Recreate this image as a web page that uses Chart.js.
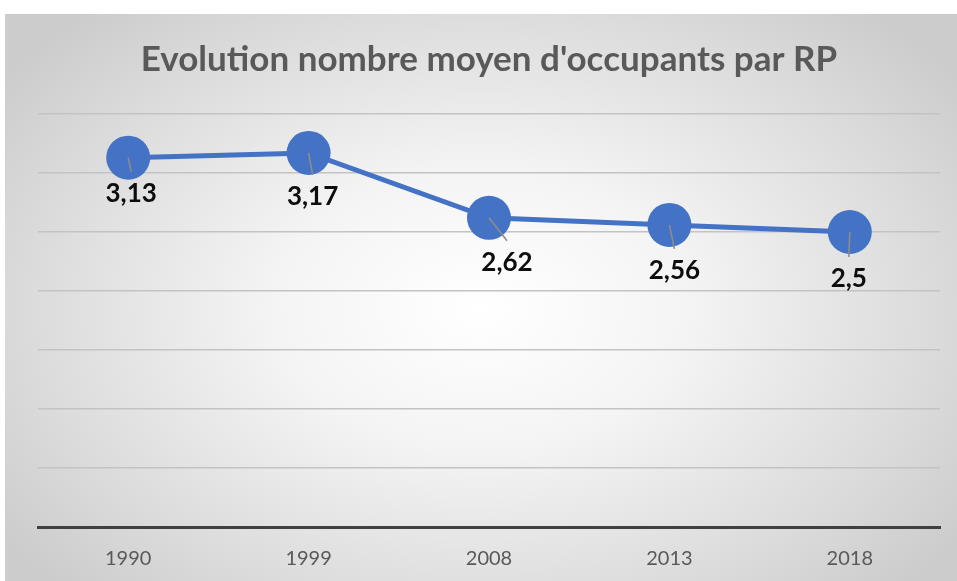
<!DOCTYPE html>
<html>
<head>
<meta charset="utf-8">
<script src="https://cdn.jsdelivr.net/npm/chart.js@4/dist/chart.umd.min.js"></script>
<style>
  html, body { margin: 0; padding: 0; background: #ffffff; width: 957px; height: 581px; overflow: hidden; }
  #wrap {
    position: absolute; left: 5px; top: 14px; width: 952px; height: 567px;
    background: radial-gradient(ellipse 62% 70% at 50% 52%, #ffffff 0%, #f4f4f4 35%, #dcdcdc 75%, #cccccc 100%);
  }
  canvas { display: block; }
</style>
</head>
<body>
<div id="wrap"><canvas id="c" width="952" height="567"></canvas></div>
<script>
const titleText = "Evolution nombre moyen d'occupants par RP";
const years = ["1990", "1999", "2008", "2013", "2018"];
const occupants = [3.13, 3.17, 2.62, 2.56, 2.5];
const yMin = 0;
const yMax = 3.5;
const yStep = 0.5;

const fmt = v => String(v).replace('.', ',');

const labelPlugin = {
  id: 'pointLabels',
  afterDatasetsDraw(chart, args, opts) {
    const ctx = chart.ctx;
    const meta = chart.getDatasetMeta(0);
    ctx.save();
    meta.data.forEach((pt, i) => {
      const off = opts.offsets[i] || [0, 40];
      const lx = pt.x + off[0];
      const ly = pt.y + off[1];
      ctx.strokeStyle = '#8c8c8c';
      ctx.lineWidth = 1.6;
      ctx.beginPath();
      ctx.moveTo(pt.x, pt.y);
      ctx.lineTo(lx, ly - 22);
      ctx.stroke();
      ctx.fillStyle = '#0d0d0d';
      ctx.font = 'bold 26px Lato, "Open Sans", sans-serif';
      ctx.textAlign = 'center';
      ctx.textBaseline = 'middle';
      ctx.fillText(fmt(chart.data.datasets[0].data[i]), lx, ly);
    });
    ctx.restore();
  }
};

new Chart(document.getElementById('c'), {
  type: 'line',
  data: {
    labels: years,
    datasets: [{
      data: occupants,
      borderColor: '#4472C4',
      backgroundColor: '#4472C4',
      borderWidth: 5,
      pointRadius: 22,
      pointHoverRadius: 22,
      pointBackgroundColor: '#4472C4',
      pointBorderWidth: 0,
      tension: 0,
      clip: false
    }]
  },
  options: {
    responsive: false,
    animation: false,
    events: [],
    layout: { autoPadding: false, padding: { left: 33, right: 17, top: 0, bottom: 0 } },
    plugins: {
      legend: { display: false },
      tooltip: { enabled: false },
      title: {
        display: true,
        text: titleText,
        color: '#595959',
        font: { family: 'Lato, "Open Sans", sans-serif', size: 35, weight: 'bold' },
        padding: { top: 25, bottom: 33 }
      },
      pointLabels: { offsets: [[3, 36], [4, 44], [18, 45], [5, 46], [-1, 47]] }
    },
    scales: {
      x: {
        offset: true,
        grid: { display: false, drawTicks: false },
        border: { display: true, color: '#404040', width: 3 },
        ticks: { color: '#595959', font: { family: 'Lato, "Open Sans", sans-serif', size: 20 }, padding: 20 },
        afterFit(scale) { scale.height = 54; }
      },
      y: {
        min: yMin, max: yMax,
        ticks: { display: false, stepSize: yStep },
        grid: { color: '#c3c3c3', lineWidth: 1.5, drawTicks: false },
        border: { display: false }
      }
    }
  },
  plugins: [labelPlugin]
});
</script>
</body>
</html>
